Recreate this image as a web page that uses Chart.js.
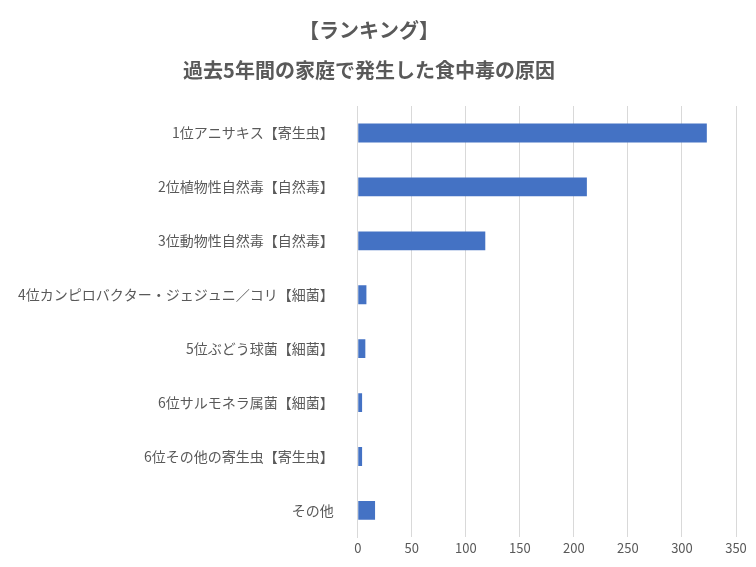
<!DOCTYPE html>
<html>
<head>
<meta charset="utf-8">
<script src="https://cdn.jsdelivr.net/npm/chart.js@4/dist/chart.umd.min.js"></script>
<style>
  html, body { margin: 0; padding: 0; background: #fff; }
  #wrap { width: 756px; height: 567px; }
</style>
</head>
<body>
<div id="wrap"><canvas id="chart" width="756" height="567"></canvas></div>
<script>
// Causes of household food poisoning, last 5 years
const categories = [
  '1位アニサキス【寄生虫】',
  '2位植物性自然毒【自然毒】',
  '3位動物性自然毒【自然毒】',
  '4位カンピロバクター・ジェジュニ／コリ【細菌】',
  '5位ぶどう球菌【細菌】',
  '6位サルモネラ属菌【細菌】',
  '6位その他の寄生虫【寄生虫】',
  'その他'
];
const cases = [323, 212, 118, 8, 7, 4, 4, 16];
const titleLines = ['【ランキング】', '過去5年間の家庭で発生した食中毒の原因'];

const font = "'Noto Sans CJK JP', 'Noto Sans', sans-serif";

new Chart(document.getElementById('chart'), {
  type: 'bar',
  data: {
    labels: categories,
    datasets: [{
      data: cases,
      backgroundColor: '#4472c4',
      categoryPercentage: 0.35,
      barPercentage: 1
    }]
  },
  options: {
    indexAxis: 'y',
    responsive: false,
    animation: false,
    layout: { padding: { left: 2, right: 20, top: 8, bottom: 8 } },
    plugins: {
      legend: { display: false },
      tooltip: { enabled: false },
      title: {
        display: true,
        text: titleLines,
        color: '#595959',
        font: { family: font, size: 20, weight: 'bold', lineHeight: 2.0 },
        padding: { top: 2, bottom: 16 }
      }
    },
    scales: {
      x: {
        min: 0,
        max: 350,
        ticks: { stepSize: 50, color: '#595959', font: { family: font, size: 13 } },
        grid: { color: '#d9d9d9', drawTicks: false },
        border: { display: false }
      },
      y: {
        ticks: { color: '#595959', font: { family: font, size: 14 }, padding: 16 },
        grid: { display: false },
        border: { color: '#d9d9d9' }
      }
    }
  }
});
</script>
</body>
</html>
